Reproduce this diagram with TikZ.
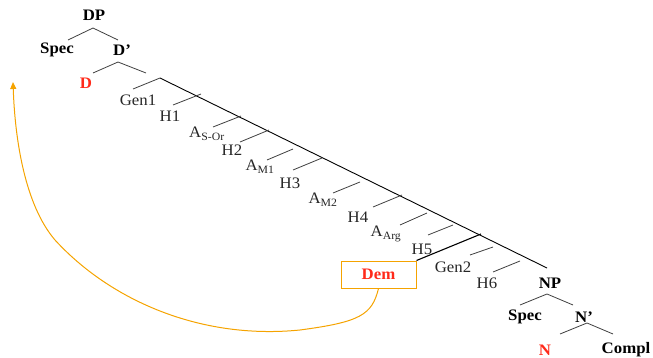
\documentclass[tikz,border=0pt]{standalone}
\usepackage{fontspec}
\setmainfont{Liberation Serif}
\usetikzlibrary{arrows.meta}
\definecolor{redt}{HTML}{FF2A1A}
\definecolor{orng}{HTML}{F5A300}
\newcommand\wx[1]{\scalebox{1.05}[1]{#1}}
\begin{document}
\begin{tikzpicture}[x=1pt,y=-1pt,
  lab/.style={font=\fontsize{16}{17}\selectfont, inner sep=0pt, text=black!85},
  blab/.style={font=\fontsize{16}{17}\selectfont\bfseries, inner sep=0pt},
  rlab/.style={blab, text=redt},
  br/.style={draw=black!75, line width=0.8pt},
  mainline/.style={draw=black, line width=0.9pt},
  dembox/.style={draw=orng, line width=1pt, minimum width=75pt, minimum height=27pt, inner sep=0pt, font=\fontsize{16}{17}\selectfont\bfseries, text=redt},
  move/.style={draw=orng, line width=1pt, -{Triangle[width=6pt,length=7pt]}}]
\useasboundingbox (0,0) rectangle (653,358);
% labels
\node[blab] (DP) at (94,15) {\wx{DP}};
\node[blab] (spec1) at (57,50) {\wx{Spec}};
\node[blab] (Dbar) at (122,50) {\wx{D’}};
\node[rlab] (D) at (86,83) {\wx{D}};
\node[lab] (gen1) at (138,100) {\wx{Gen1}};
\node[lab] (h1) at (170,116) {\wx{H1}};
\node[lab] (asor) at (207,134) {\wx{A\textsubscript{S-Or}}};
\node[lab] (h2) at (232,150) {\wx{H2}};
\node[lab] (am1) at (260,167) {\wx{A\textsubscript{M1}}};
\node[lab] (h3) at (290,183) {\wx{H3}};
\node[lab] (am2) at (323,200) {\wx{A\textsubscript{M2}}};
\node[lab] (h4) at (358,217) {\wx{H4}};
\node[lab] (aarg) at (386,234) {\wx{A\textsubscript{Arg}}};
\node[lab] (h5) at (422,249) {\wx{H5}};
\node[lab] (gen2) at (453,267) {\wx{Gen2}};
\node[lab] (h6) at (487,283) {\wx{H6}};
\node[blab] (NP) at (550,283) {\wx{NP}};
\node[blab] (spec2) at (525,317) {\wx{Spec}};
\node[blab] (Nbar) at (584,317) {\wx{N’}};
\node[rlab] (N) at (545,350) {\wx{N}};
\node[blab] (compl) at (626,350) {\wx{Compl}};
\node[dembox] (dem) at (378.5,274.5) {\wx{Dem}};
% tree coordinates
\coordinate (a0) at (93,28);
\coordinate (a0l) at (68,40);
\coordinate (a0r) at (118,40);
\coordinate (a1) at (118,62);
\coordinate (a1l) at (93,73);
\coordinate (a1r) at (146,73);
\coordinate (m0) at (160,78);
\coordinate (m0l) at (133,89);
\coordinate (mEnd) at (547,268);
\coordinate (n0) at (547,294);
\coordinate (n0l) at (520,305);
\coordinate (n0r) at (573,305);
\coordinate (n1) at (587,323);
\coordinate (n1l) at (560,334);
\coordinate (n1r) at (613,334);
\coordinate (demtop) at (481,234);
\draw[br] (a0l) -- (a0) -- (a0r);
\draw[br] (a1l) -- (a1) -- (a1r);
\draw[br] (m0l) -- (m0);
\draw[mainline] (m0) -- (mEnd);
\draw[br] (n0l) -- (n0) -- (n0r);
\draw[br] (n1l) -- (n1) -- (n1r);
% short branch lines
\foreach \i/\xa/\ya/\xb/\yb in {1/173/105/201/94, 2/213/127/241/116, 3/240/142/269/130,
  4/267/160/293/149, 5/293/170/322/158, 6/333/193/360/182, 7/373/207/402/195,
  8/400/225/427/213, 9/428/235/453/225, 10/470/255/493/247, 11/493/272/520/261}{
  \coordinate (s\i a) at (\xa,\ya);
  \coordinate (s\i b) at (\xb,\yb);
  \draw[br] (s\i a) -- (s\i b);
}
\draw[draw=black, line width=1.1pt] (dem.north east) -- (demtop);
% movement arrow
\coordinate (c1) at (300,330);
\coordinate (c2) at (55,240);
\coordinate (tip) at (13,82);
\draw[move] (dem.south) .. controls (372,315) and (360,322) .. (c1)
  .. controls (200,340) and (110,300) .. (c2)
  .. controls (25,205) and (15,140) .. (tip);
\end{tikzpicture}
\end{document}
